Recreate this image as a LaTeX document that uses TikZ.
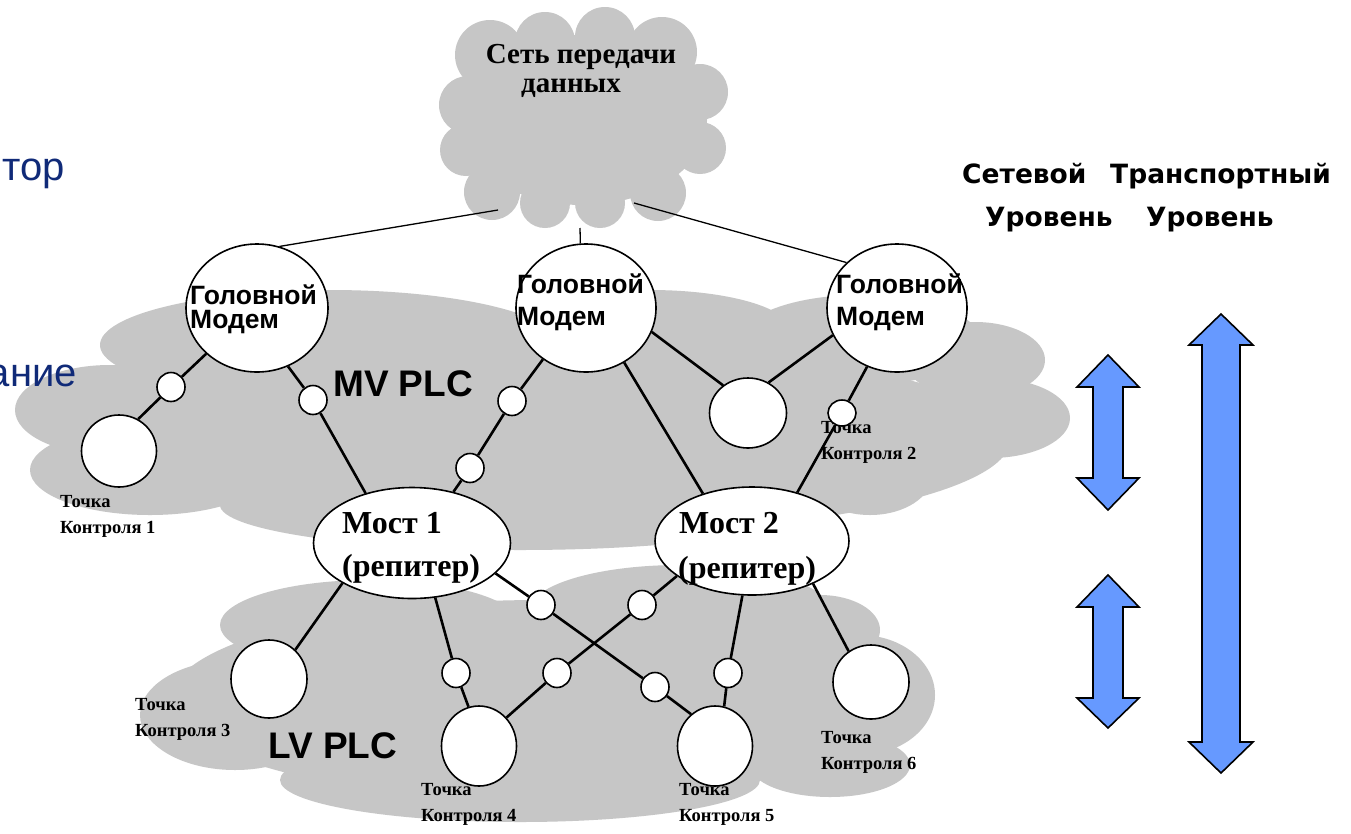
\documentclass[tikz,border=0pt]{standalone}
\usepackage{fontspec}
\setmainfont{Liberation Serif}
\newfontfamily\arialf{Liberation Sans}
\newfontfamily\verdf{DejaVu Sans}
\usetikzlibrary{shapes.geometric}

\definecolor{cloudgray}{RGB}{198,198,198}
\definecolor{arrowblue}{RGB}{102,153,255}
\definecolor{slidenavy}{RGB}{16,42,120}

\tikzset{
  mnode/.style={ellipse, draw=black, fill=white, line width=1.6pt, inner sep=0pt},
  tap/.style={mnode, minimum width=28pt, minimum height=29pt},
  link/.style={line width=2.6pt, black},
  uplink/.style={line width=1.3pt, black},
  lvedge/.style={draw=white, line width=7pt},
  serifb/.style={font=\bfseries, anchor=base west, inner sep=0pt},
  cplbl/.style={serifb, font=\fontsize{18.5pt}{20pt}\selectfont\bfseries},
  modemtxt/.style={anchor=base west, inner sep=0pt, font=\arialf\fontsize{26.5pt}{28pt}\selectfont\bfseries},
  plctxt/.style={anchor=base west, inner sep=0pt, font=\arialf\fontsize{37pt}{39pt}\selectfont\bfseries},
  bridgetxt/.style={anchor=base west, inner sep=0pt, font=\fontsize{32pt}{34pt}\selectfont\bfseries},
  leveltxt/.style={anchor=base west, inner sep=0pt, font=\verdf\fontsize{26.5pt}{28pt}\selectfont\bfseries},
  slidetxt/.style={anchor=base east, inner sep=0pt, text=slidenavy, font=\arialf\fontsize{40pt}{42pt}\selectfont},
  nettxt/.style={anchor=base, inner sep=0pt, font=\fontsize{29pt}{31pt}\selectfont\bfseries},
  barrow/.style={fill=arrowblue, draw=black, line width=1.6pt, line join=miter},
}

\newcommand{\cptext}[4]{%
  \node[cplbl] (#1a) at (#2,#3) {Точка};
  \node[cplbl] (#1b) at (#2,#3+26) {Контроля #4};
}

\begin{document}
\begin{tikzpicture}[x=1pt,y=-1pt]
\useasboundingbox (0,0) rectangle (1351,833);
\clip (0,0) rectangle (1351,833);
\fill[white] (0,0) rectangle (1351,833);

% data network cloud
\begin{scope}[cloudgray]
  \fill (582,120) ellipse [x radius=125pt, y radius=85pt];
  \foreach \cx/\cy/\r in {490/55/35, 545/42/30, 605/37/30, 662/52/35, 700/92/28,
      468/105/29, 466/150/26, 700/148/26, 492/192/28, 545/203/25, 600/203/25, 658/193/28}{
    \fill (\cx,\cy) circle [radius=\r pt];
  }
\end{scope}

% MV PLC cloud
\begin{scope}[cloudgray]
  \fill (110,410) ellipse [x radius=95pt, y radius=45pt];
  \fill (150,470) ellipse [x radius=120pt, y radius=45pt];
  \fill (330,345) ellipse [x radius=230pt, y radius=55pt];
  \fill (650,330) ellipse [x radius=140pt, y radius=40pt];
  \fill (860,340) ellipse [x radius=120pt, y radius=45pt];
  \fill (975,360) ellipse [x radius=70pt, y radius=38pt];
  \fill (990,418) ellipse [x radius=80pt, y radius=40pt];
  \fill (560,440) ellipse [x radius=450pt, y radius=95pt];
  \fill (870,475) ellipse [x radius=62pt, y radius=40pt];
  \fill (520,505) ellipse [x radius=300pt, y radius=45pt];
\end{scope}

% LV PLC cloud: white rim first, then the grey body
\foreach \cx/\cy/\rx/\ry in {540/700/370/100, 235/715/95/55, 370/625/150/45,
    680/610/150/45, 860/695/75/60, 820/630/60/35, 520/780/240/42, 830/765/80/32}{
  \draw[lvedge] (\cx,\cy) ellipse [x radius=\rx pt, y radius=\ry pt];
}
\foreach \cx/\cy/\rx/\ry in {540/700/370/100, 235/715/95/55, 370/625/150/45,
    680/610/150/45, 860/695/75/60, 820/630/60/35, 520/780/240/42, 830/765/80/32}{
  \fill[cloudgray] (\cx,\cy) ellipse [x radius=\rx pt, y radius=\ry pt];
}

% fragments of slide text at the left edge
\node[slidetxt] (frag1) at (65,180) {тор};
\node[slidetxt] (frag2) at (77,386) {ание};

% nodes
\node[mnode, minimum width=142pt, minimum height=128pt] (HM1) at (257,308) {};
\node[mnode, minimum width=140pt, minimum height=128pt] (HM2) at (586,308) {};
\node[mnode, minimum width=140pt, minimum height=128pt] (HM3) at (897,308) {};
\node[mnode, minimum width=77pt, minimum height=70pt] (mid) at (748,413) {};
\node[mnode, minimum width=75pt, minimum height=72pt] (CP1) at (119,451) {};
\node[mnode, minimum width=197pt, minimum height=111pt] (M1) at (412,543) {};
\node[mnode, minimum width=194pt, minimum height=108pt] (M2) at (752,541) {};
\node[mnode, minimum width=76pt, minimum height=78pt] (CP3) at (269,679) {};
\node[mnode, minimum width=75pt, minimum height=80pt] (CP4) at (479,746) {};
\node[mnode, minimum width=75pt, minimum height=80pt] (CP5) at (715,746) {};
\node[mnode, minimum width=76pt, minimum height=74pt] (CP6) at (871,682) {};

\node[tap] (s1) at (171,387) {};
\node[tap] (s2) at (313,400) {};
\node[tap] (s3) at (512,401) {};
\node[tap] (s4) at (470,468) {};
\node[tap] (s6) at (541,605) {};
\node[tap] (s7) at (642,605) {};
\node[tap] (s8) at (456,673) {};
\node[tap] (s9) at (557,673) {};
\node[tap] (s10) at (655,687) {};
\node[tap] (s11) at (728,673) {};

% links to the data network
\coordinate (netL) at (498,210);
\coordinate (netM) at (580,228);
\coordinate (netR) at (634,203);
\draw[uplink] (netL) -- (HM1.70);
\draw[uplink] (netM) -- (HM2.95);
\draw[uplink] (netR) -- (HM3.138);

% MV links
\draw[link] (HM1.222) -- (s1) -- (CP1.59);
\draw[link] (HM1.298) -- (s2) -- (M1.133);
\draw[link] (HM2.230) -- (s3) -- (s4) -- (M1.51);
\draw[link] (HM2.305) -- (M2.136);
\draw[link] (HM2.340) -- (mid.132);
\draw[link] (HM3.203) -- (mid.56);

% LV links
\draw[link] (M1.210) -- (CP3.48);
\draw[link] (M1.293) -- (s8) -- (CP4.105);
\draw[link] (M1.340) -- (s6) -- (s10) -- (CP5.127);
\draw[link] (M2.205) -- (s7) -- (s9) -- (CP4.46);
\draw[link] (M2.260) -- (s11) -- (CP5.77);
\draw[link] (M2.325) -- (CP6.126);

% control point labels
\cptext{cp1}{60}{507}{1}
\cptext{cp2}{821}{433}{2}
\cptext{cp3}{135}{710}{3}
\cptext{cp4}{421}{795}{4}
\cptext{cp5}{679}{795}{5}
\cptext{cp6}{821}{743}{6}

% tap of control point 2 (drawn over its label)
\node[tap, minimum height=26pt] (s5) at (842,413) {};
\draw[link] (HM3.243) -- (s5) -- (M2.47);

% texts
\node[nettxt] (net1) at (581,63) {Сеть передачи};
\node[nettxt] (net2) at (571,92) {данных};

\node[modemtxt] (hm1a) at (190,304) {Головной};
\node[modemtxt] (hm1b) at (190,328) {Модем};
\node[modemtxt] (hm2a) at (517,293) {Головной};
\node[modemtxt] (hm2b) at (517,325) {Модем};
\node[modemtxt] (hm3a) at (836,293) {Головной};
\node[modemtxt] (hm3b) at (836,325) {Модем};

\node[plctxt] (mv) at (333,396) {MV PLC};
\node[plctxt] (lv) at (268,758) {LV PLC};

\node[bridgetxt] (m1a) at (342,533) {Мост 1};
\node[bridgetxt] (m1b) at (342,576) {(репитер)};
\node[bridgetxt] (m2a) at (679,533) {Мост 2};
\node[bridgetxt] (m2b) at (678,578) {(репитер)};

\node[leveltxt] (lv1) at (962,183) {Сетевой};
\node[leveltxt] (lv2) at (1110,183) {Транспортный};
\node[leveltxt] (lv3) at (985,226) {Уровень};
\node[leveltxt] (lv4) at (1146,226) {Уровень};

% level arrows
\draw[barrow] (1108,355) -- (1139,387) -- (1123,387) -- (1123,478) -- (1139,478)
  -- (1108,510) -- (1077,478) -- (1093,478) -- (1093,387) -- (1077,387) -- cycle;
\draw[barrow] (1108,575) -- (1139,607) -- (1123,607) -- (1123,698) -- (1139,698)
  -- (1108,728) -- (1077,698) -- (1093,698) -- (1093,607) -- (1077,607) -- cycle;
\draw[barrow] (1221,314) -- (1253,345) -- (1240,345) -- (1240,742) -- (1253,742)
  -- (1221,773) -- (1189,742) -- (1202,742) -- (1202,345) -- (1189,345) -- cycle;
\end{tikzpicture}
\end{document}
